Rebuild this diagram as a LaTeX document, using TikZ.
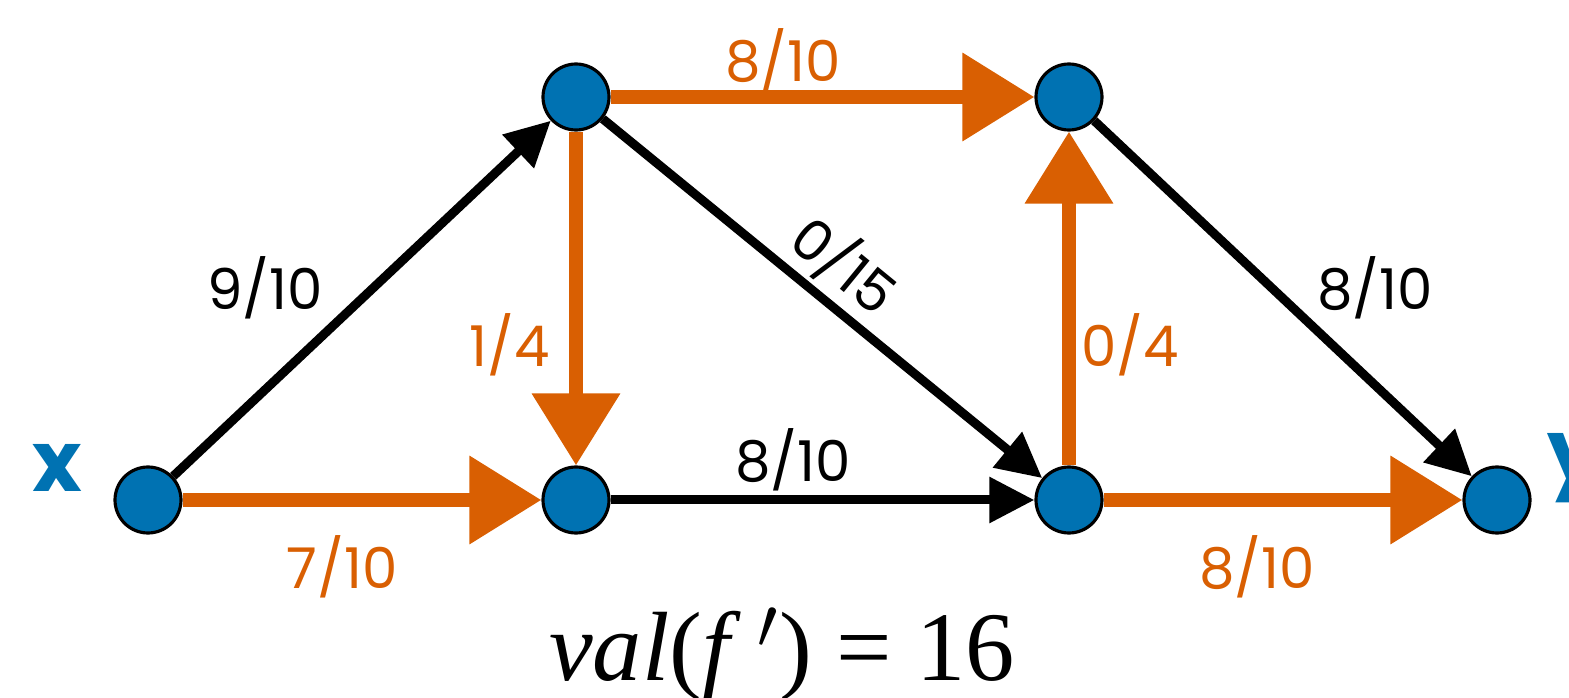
\documentclass[tikz,border=0pt]{standalone}
\usepackage{fontspec}
\setmainfont{Liberation Serif}
\newfontfamily\lblfont{Poppins}
\usetikzlibrary{arrows.meta}
\definecolor{nodeblue}{HTML}{0072B2}
\definecolor{flow}{HTML}{D95F02}
\tikzset{
  vtx/.style={circle, draw=black, line width=0.9pt, fill=nodeblue, minimum size=0.66cm, inner sep=0pt},
  blackedge/.style={line width=0.09cm, -{Triangle[length=0.45cm,width=0.44cm]}},
  flowedge/.style={draw=flow, line width=0.14cm, -{Triangle[length=0.72cm,width=0.85cm]}},
  lbl/.style={font=\lblfont\fontsize{16}{18}\selectfont, inner sep=0pt},
  flowlbl/.style={lbl, text=flow},
}
\begin{document}
\begin{tikzpicture}
\useasboundingbox (0,0) rectangle (15.69,6.98);
\node[vtx] (x) at (1.48,1.98) {};
\node[vtx] (a) at (5.76,6.01) {};
\node[vtx] (b) at (10.69,6.01) {};
\node[vtx] (c) at (5.76,1.98) {};
\node[vtx] (d) at (10.69,1.98) {};
\node[vtx] (y) at (14.97,1.98) {};

\draw[blackedge] (x) -- (a);
\draw[blackedge] (a) -- (d);
\draw[blackedge] (c) -- (d);
\draw[blackedge] (b) -- (y);
\draw[flowedge] (x) -- (c);
\draw[flowedge] (a) -- (c);
\draw[flowedge] (a) -- (b);
\draw[flowedge] (d) -- (b);
\draw[flowedge] (d) -- (y);

\node[lbl] (l1) at (2.65,4.10) {9/10};
\node[flowlbl] (l2) at (7.83,6.38) {8/10};
\node[flowlbl] (l3) at (5.10,3.53) {1/4};
\node[lbl, rotate=-39.3] (l4) at (8.45,4.33) {0/15};
\node[flowlbl] (l5) at (11.30,3.53) {0/4};
\node[lbl] (l6) at (13.75,4.10) {8/10};
\node[lbl] (l7) at (7.93,2.38) {8/10};
\node[flowlbl] (l8) at (3.42,1.31) {7/10};
\node[flowlbl] (l9) at (12.57,1.31) {8/10};
\node[font=\lblfont\bfseries\fontsize{24}{28}\selectfont, text=nodeblue, inner sep=0pt] (xl) at (0.57,2.30) {x};
\node[font=\lblfont\bfseries\fontsize{24}{28}\selectfont, text=nodeblue, inner sep=0pt, anchor=west] (yl) at (15.47,2.30) {y};
\node[font=\fontsize{28}{32}\selectfont, anchor=base, inner sep=0pt] (val) at (7.82,0.18) {\textit{val}(\textit{f}\,$'$) = 16};
\end{tikzpicture}
\end{document}
